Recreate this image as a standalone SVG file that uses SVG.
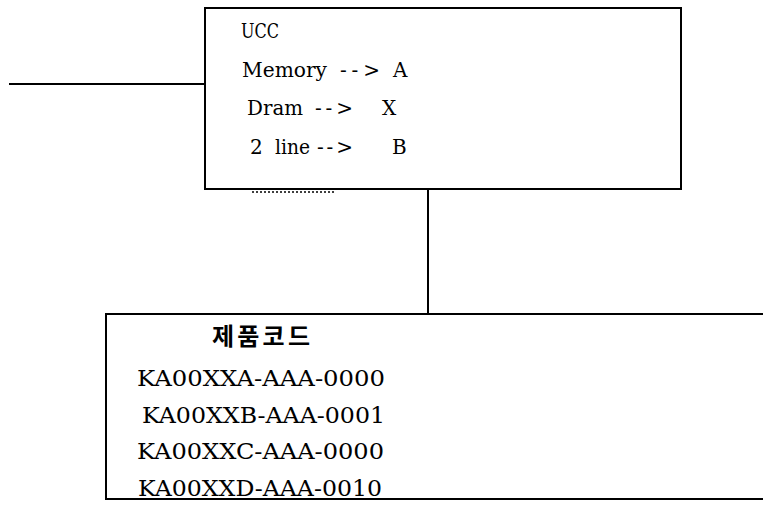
<svg xmlns="http://www.w3.org/2000/svg" width="763" height="509" viewBox="0 0 763 509">
<style>
.ln{stroke:#000;fill:none;stroke-width:2}
.k{font-family:'Noto Sans CJK KR','Noto Sans CJK SC',sans-serif;font-size:24px;font-weight:700;fill:#000}
</style>
<rect width="763" height="509" fill="#fff"/>
<g id="connectors">
<line class="ln" x1="9" y1="84" x2="205" y2="84"/>
<line class="ln" x1="428" y1="189" x2="428" y2="314" stroke-width="3"/>
<line x1="252" y1="192" x2="335" y2="192" stroke="#000" stroke-width="1.5" stroke-dasharray="2 2"/>
</g>
<g id="ucc" font-family="DejaVu Serif, Liberation Serif, serif" font-size="20">
<rect class="ln" x="205" y="8" width="476" height="181"/>
<text x="241" y="38" textLength="38" lengthAdjust="spacingAndGlyphs">UCC</text>
<text x="242" y="77" textLength="85" lengthAdjust="spacingAndGlyphs">Memory</text>
<text x="340" y="77" textLength="40" lengthAdjust="spacing">--&gt;</text>
<text x="393" y="77">A</text>
<text x="247" y="115" textLength="56" lengthAdjust="spacingAndGlyphs">Dram</text>
<text x="315" y="115" textLength="38" lengthAdjust="spacing">--&gt;</text>
<text x="382" y="115">X</text>
<text x="250" y="154">2</text>
<text x="275" y="154" textLength="35" lengthAdjust="spacingAndGlyphs">line</text>
<text x="317" y="154" textLength="36" lengthAdjust="spacing">--&gt;</text>
<text x="392" y="154">B</text>
</g>
<g id="codes" font-family="DejaVu Serif, Liberation Serif, serif" font-size="22">
<path class="ln" d="M763 314 H106 V499 H763"/>
<text class="k" x="212" y="345" textLength="98" lengthAdjust="spacing">제품코드</text>
<text x="137" y="386" textLength="248" lengthAdjust="spacingAndGlyphs">KA00XXA-AAA-0000</text>
<text x="142" y="423" textLength="243" lengthAdjust="spacingAndGlyphs">KA00XXB-AAA-0001</text>
<text x="137" y="459" textLength="247" lengthAdjust="spacingAndGlyphs">KA00XXC-AAA-0000</text>
<text x="138" y="496" textLength="244" lengthAdjust="spacingAndGlyphs">KA00XXD-AAA-0010</text>
</g>
</svg>
